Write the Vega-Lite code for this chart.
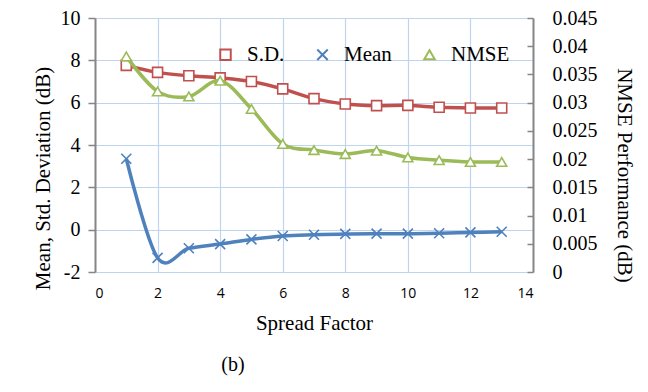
{
  "$schema": "https://vega.github.io/schema/vega-lite/v6.json",
  "autosize": "none",
  "width": 438,
  "height": 254,
  "padding": {"left": 95, "top": 18, "right": 115, "bottom": 120},
  "background": "white",
  "config": {
    "view": {"stroke": null},
    "font": "Liberation Serif",
    "legend": {
      "title": null,
      "orient": "none",
      "direction": "horizontal",
      "legendX": 120,
      "legendY": 26,
      "padding": 0,
      "columnPadding": 27,
      "labelOffset": 11,
      "labelFont": "Liberation Serif",
      "labelFontSize": 21,
      "labelColor": "black",
      "symbolSize": 110,
      "symbolStrokeWidth": 2,
      "symbolFillColor": "white",
      "symbolOpacity": 1
    }
  },
  "title": {
    "text": "(b)",
    "orient": "bottom",
    "anchor": "middle",
    "dx": -81,
    "offset": 22,
    "font": "Liberation Serif",
    "fontSize": 20,
    "fontWeight": "normal",
    "color": "black"
  },
  "data": {
    "values": [
      {"x": 1, "series": "S.D.", "value": 7.76},
      {"x": 2, "series": "S.D.", "value": 7.43},
      {"x": 3, "series": "S.D.", "value": 7.27},
      {"x": 4, "series": "S.D.", "value": 7.17},
      {"x": 5, "series": "S.D.", "value": 7.0},
      {"x": 6, "series": "S.D.", "value": 6.65},
      {"x": 7, "series": "S.D.", "value": 6.19},
      {"x": 8, "series": "S.D.", "value": 5.94},
      {"x": 9, "series": "S.D.", "value": 5.86},
      {"x": 10, "series": "S.D.", "value": 5.87},
      {"x": 11, "series": "S.D.", "value": 5.78},
      {"x": 12, "series": "S.D.", "value": 5.75},
      {"x": 13, "series": "S.D.", "value": 5.75},
      {"x": 1, "series": "Mean", "value": 3.35},
      {"x": 2, "series": "Mean", "value": -1.33},
      {"x": 3, "series": "Mean", "value": -0.88},
      {"x": 4, "series": "Mean", "value": -0.68},
      {"x": 5, "series": "Mean", "value": -0.46},
      {"x": 6, "series": "Mean", "value": -0.3},
      {"x": 7, "series": "Mean", "value": -0.24},
      {"x": 8, "series": "Mean", "value": -0.2},
      {"x": 9, "series": "Mean", "value": -0.19},
      {"x": 10, "series": "Mean", "value": -0.19},
      {"x": 11, "series": "Mean", "value": -0.17},
      {"x": 12, "series": "Mean", "value": -0.13},
      {"x": 13, "series": "Mean", "value": -0.1},
      {"x": 1, "series": "NMSE", "value": 0.0382},
      {"x": 2, "series": "NMSE", "value": 0.032},
      {"x": 3, "series": "NMSE", "value": 0.0311},
      {"x": 4, "series": "NMSE", "value": 0.0339},
      {"x": 5, "series": "NMSE", "value": 0.0289},
      {"x": 6, "series": "NMSE", "value": 0.0227},
      {"x": 7, "series": "NMSE", "value": 0.0216},
      {"x": 8, "series": "NMSE", "value": 0.0209},
      {"x": 9, "series": "NMSE", "value": 0.0215},
      {"x": 10, "series": "NMSE", "value": 0.0203},
      {"x": 11, "series": "NMSE", "value": 0.0198},
      {"x": 12, "series": "NMSE", "value": 0.0195},
      {"x": 13, "series": "NMSE", "value": 0.0195}
    ]
  },
  "encoding": {
    "x": {
      "field": "x",
      "type": "quantitative",
      "scale": {"domain": [0, 14], "nice": false, "zero": false},
      "axis": {
        "values": [0, 2, 4, 6, 8, 10, 12, 14],
        "title": "Spread Factor",
        "titleFont": "Liberation Serif",
        "titleFontSize": 21,
        "titleFontWeight": "normal",
        "titleColor": "black",
        "titlePadding": 12,
        "labelFont": "Open Sans",
        "labelFontSize": 14,
        "labelColor": "black",
        "labelPadding": 14,
        "domain": false,
        "ticks": false,
        "grid": true,
        "gridColor": "#bfd4ef",
        "gridWidth": 1.2
      }
    }
  },
  "layer": [
    {
      "layer": [
        {
          "mark": {"type": "rule", "color": "#868686", "strokeWidth": 2},
          "encoding": {"y": {"datum": 0}}
        },
        {
          "transform": [{"filter": "datum.series !== 'NMSE'"}],
          "mark": {"type": "line", "interpolate": "cardinal", "strokeWidth": 3.5},
          "encoding": {
            "y": {"field": "value", "type": "quantitative"},
            "detail": {"field": "series"},
            "stroke": {
              "field": "series",
              "type": "nominal",
              "scale": {"domain": ["S.D.", "Mean", "NMSE"], "range": ["#c0504d", "#4f81bd", "#9bbb59"]}
            }
          }
        },
        {
          "transform": [{"filter": "datum.series !== 'NMSE'"}],
          "mark": {"type": "point", "opacity": 1, "strokeWidth": 1.6, "fill": "white", "filled": false},
          "encoding": {
            "y": {"field": "value", "type": "quantitative"},
            "stroke": {
              "field": "series",
              "type": "nominal",
              "scale": {"domain": ["S.D.", "Mean", "NMSE"], "range": ["#c0504d", "#4f81bd", "#9bbb59"]}
            },
            "shape": {
              "field": "series",
              "type": "nominal",
              "scale": {"domain": ["S.D.", "Mean", "NMSE"], "range": ["square", "M-1,-1L1,1M-1,1L1,-1", "triangle-up"]}
            },
            "size": {"value": 100},
            "fill": {"value": "white"}
          }
        }
      ],
      "encoding": {
        "y": {
          "type": "quantitative",
          "scale": {"domain": [-2, 10], "nice": false, "zero": false},
          "axis": {
            "orient": "left",
            "values": [-2, 0, 2, 4, 6, 8, 10],
            "labelExpr": "'' + datum.value",
            "title": "Mean, Std. Deviation (dB)",
            "titleFont": "Liberation Serif",
            "titleFontSize": 21,
            "titleFontWeight": "normal",
            "titleColor": "black",
            "titleX": -52,
            "titleY": 160,
            "titleBaseline": "middle",
            "labelFont": "Liberation Serif",
            "labelFontSize": 20,
            "labelColor": "black",
            "labelPadding": 8,
            "domainColor": "#868686",
            "domainWidth": 2,
            "tickColor": "#868686",
            "tickWidth": 1.5,
            "tickSize": 7,
            "grid": true,
            "gridColor": "#bfd4ef",
            "gridWidth": 1.2
          }
        }
      }
    },
    {
      "transform": [{"filter": "datum.series === 'NMSE'"}],
      "layer": [
        {
          "mark": {"type": "line", "interpolate": "cardinal", "strokeWidth": 3.5},
          "encoding": {
            "stroke": {"field": "series", "type": "nominal"}
          }
        },
        {
          "mark": {"type": "point", "opacity": 1, "strokeWidth": 1.6, "fill": "white", "filled": false},
          "encoding": {
            "stroke": {"field": "series", "type": "nominal"},
            "shape": {"field": "series", "type": "nominal"},
            "size": {"value": 100},
            "fill": {"value": "white"}
          }
        }
      ],
      "encoding": {
        "y": {
          "field": "value",
          "type": "quantitative",
          "scale": {"domain": [0, 0.045], "nice": false, "zero": false},
          "axis": {
            "orient": "right",
            "values": [0, 0.005, 0.01, 0.015, 0.02, 0.025, 0.03, 0.035, 0.04, 0.045],
            "format": "~g",
            "title": "NMSE Performance (dB)",
            "titleFont": "Liberation Serif",
            "titleFontSize": 21,
            "titleFontWeight": "normal",
            "titleColor": "black",
            "titleAngle": 90,
            "titleX": 90,
            "titleY": 157,
            "titleBaseline": "middle",
            "labelFont": "Liberation Serif",
            "labelFontSize": 20,
            "labelColor": "black",
            "labelPadding": 25,
            "domainColor": "#868686",
            "domainWidth": 2,
            "tickColor": "#868686",
            "tickWidth": 1.5,
            "tickSize": -6,
            "grid": false
          }
        }
      }
    }
  ],
  "resolve": {"scale": {"y": "independent"}}
}
